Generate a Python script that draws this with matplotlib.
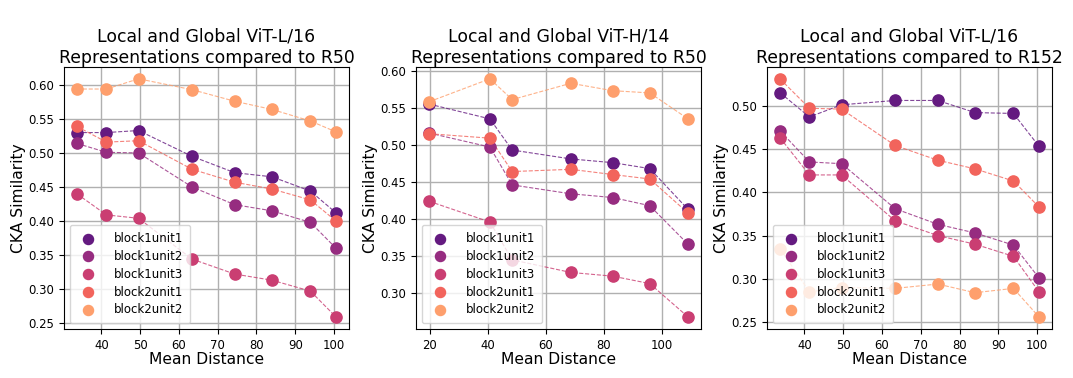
import numpy as np
import matplotlib
matplotlib.use('Agg')
import matplotlib.pyplot as plt

labels = ['block1unit1', 'block1unit2', 'block1unit3', 'block2unit1', 'block2unit2']

# ViT-L/16 vs R50
dist_l16 = [33.7, 41.3, 49.6, 63.4, 74.4, 84.0, 93.9, 100.5]
l16_r50_b1u1 = [0.530, 0.530, 0.533, 0.495, 0.471, 0.465, 0.444, 0.412]
l16_r50_b1u2 = [0.514, 0.501, 0.500, 0.450, 0.424, 0.415, 0.398, 0.360]
l16_r50_b1u3 = [0.440, 0.409, 0.404, 0.344, 0.322, 0.313, 0.297, 0.259]
l16_r50_b2u1 = [0.539, 0.516, 0.518, 0.476, 0.457, 0.447, 0.431, 0.400]
l16_r50_b2u2 = [0.594, 0.594, 0.609, 0.593, 0.576, 0.564, 0.547, 0.531]

# ViT-H/14 vs R50
dist_h14 = [19.7, 40.7, 48.4, 68.6, 83.0, 95.8, 109.0]
h14_r50_b1u1 = [0.555, 0.535, 0.493, 0.481, 0.476, 0.468, 0.413]
h14_r50_b1u2 = [0.516, 0.497, 0.446, 0.434, 0.429, 0.418, 0.366]
h14_r50_b1u3 = [0.424, 0.396, 0.345, 0.328, 0.323, 0.313, 0.268]
h14_r50_b2u1 = [0.515, 0.509, 0.464, 0.467, 0.460, 0.454, 0.408]
h14_r50_b2u2 = [0.558, 0.589, 0.561, 0.583, 0.573, 0.570, 0.535]

# ViT-L/16 vs R152
l16_r152_b1u1 = [0.515, 0.487, 0.501, 0.506, 0.506, 0.492, 0.491, 0.453]
l16_r152_b1u2 = [0.471, 0.435, 0.433, 0.381, 0.363, 0.353, 0.339, 0.301]
l16_r152_b1u3 = [0.463, 0.420, 0.420, 0.367, 0.350, 0.340, 0.326, 0.285]
l16_r152_b2u1 = [0.531, 0.497, 0.496, 0.454, 0.437, 0.427, 0.413, 0.383]
l16_r152_b2u2 = [0.335, 0.285, 0.290, 0.289, 0.294, 0.284, 0.289, 0.256]

titles = ['Local and Global ViT-L/16\nRepresentations compared to R50',
          'Local and Global ViT-H/14\nRepresentations compared to R50',
          'Local and Global ViT-L/16\nRepresentations compared to R152']

colors = plt.cm.magma(np.linspace(0.3, 0.8, 5))


def plot_panel(ax, dist, series, title):
    for i in range(len(series)):
        ax.plot(dist, series[i], ls='--', lw=0.8, color=colors[i], alpha=0.8, zorder=2)
        ax.scatter(dist, series[i], s=65, color=colors[i], label=labels[i], zorder=3)
    ax.grid(True, color='#b0b0b0', lw=1)
    ax.set_axisbelow(True)
    ax.set_title(title, fontsize=12.4, pad=3)
    ax.set_xlabel('Mean Distance', fontsize=11.2, labelpad=0)
    ax.set_ylabel('CKA Similarity', fontsize=11.2, labelpad=2)
    ax.tick_params(labelsize=8.4)
    ax.legend(loc='lower left', fontsize=8.5, labelspacing=0.42, markerscale=0.9,
              handletextpad=1.2, borderpad=0.55)


fig = plt.figure(figsize=(10.73, 3.78), dpi=100)
ax1 = fig.add_axes((0.0596, 0.130, 0.2656, 0.693))
ax2 = fig.add_axes((0.3877, 0.130, 0.2656, 0.693))
ax3 = fig.add_axes((0.7148, 0.130, 0.2656, 0.693))

plot_panel(ax1, dist_l16, [l16_r50_b1u1, l16_r50_b1u2, l16_r50_b1u3, l16_r50_b2u1, l16_r50_b2u2], titles[0])
plot_panel(ax2, dist_h14, [h14_r50_b1u1, h14_r50_b1u2, h14_r50_b1u3, h14_r50_b2u1, h14_r50_b2u2], titles[1])
plot_panel(ax3, dist_l16, [l16_r152_b1u1, l16_r152_b1u2, l16_r152_b1u3, l16_r152_b2u1, l16_r152_b2u2], titles[2])
ax2.set_xticks([20, 40, 60, 80, 100])

fig.savefig('out.png', dpi=100)
